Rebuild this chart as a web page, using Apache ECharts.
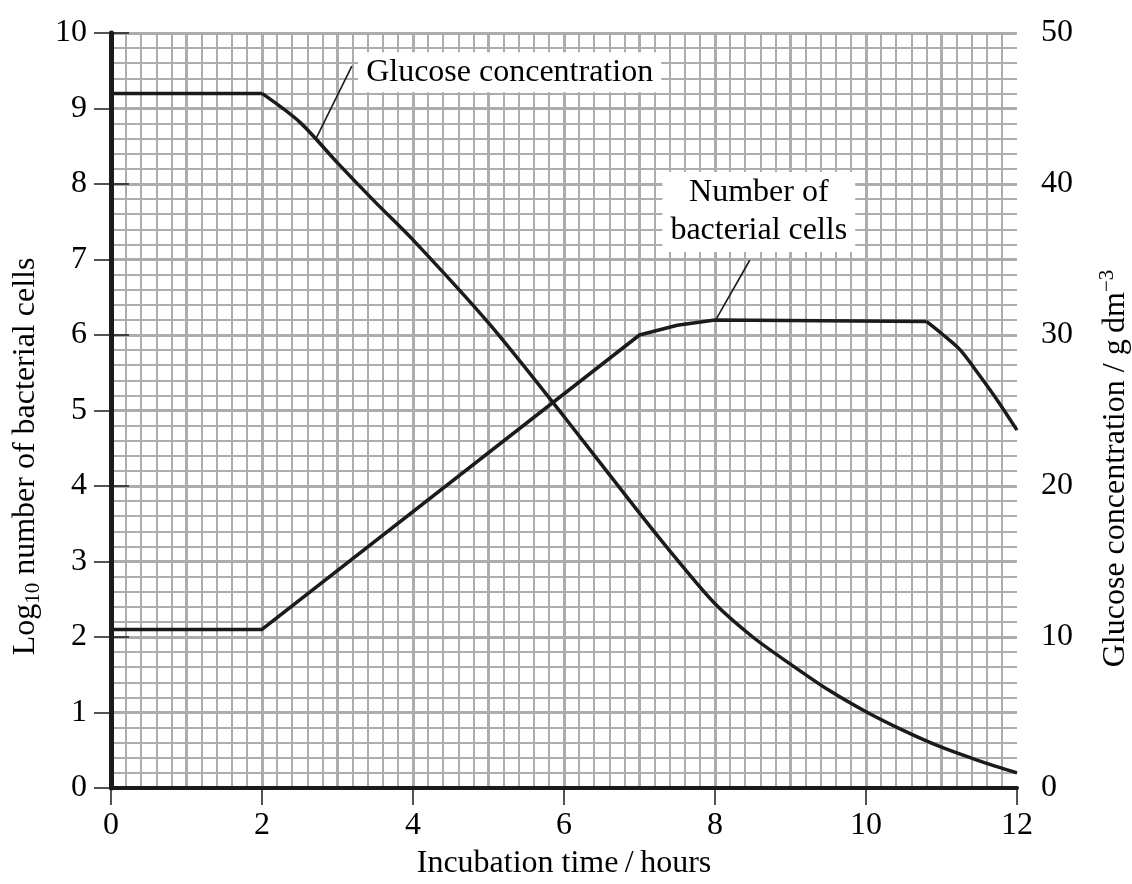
<!DOCTYPE html>
<html>
<head>
<meta charset="utf-8">
<title>Bacterial cells and glucose</title>
<script src="https://cdn.jsdelivr.net/npm/echarts@6/dist/echarts.min.js"></script>
<style>
  html, body { margin: 0; padding: 0; background: #fff; }
  #chart { width: 1132px; height: 884px; }
</style>
</head>
<body>
<div id="chart"></div>
<script>
// values
var glucoseHours  = [0, 2, 2.5, 3, 3.5, 4, 5, 6, 7, 7.5, 8, 8.5, 9, 9.5, 10, 10.5, 11, 11.5, 12];
var glucoseValues = [46, 46, 44.1, 41.4, 38.8, 36.3, 30.8, 24.6, 18.2, 15.1, 12.2, 10.0, 8.2, 6.5, 5.05, 3.8, 2.7, 1.8, 1.0];
var cellHours = [0, 2, 7, 7.5, 8, 10.8, 11, 11.25, 11.5, 11.75, 12];
var cellLog   = [2.1, 2.1, 6.0, 6.13, 6.2, 6.18, 6.02, 5.8, 5.47, 5.12, 4.74];

var hourRange = [0, 12];
var logRange = [0, 10];
var glucoseRange = [0, 50];

function pairs(xs, ys) {
  return xs.map(function (x, i) { return [x, ys[i]]; });
}

var glucosePts = pairs(glucoseHours, glucoseValues);
var cellPts = pairs(cellHours, cellLog);

var font = 'Liberation Serif';
var fs = 32;
var ink = '#1c1a1a';
var paper = '#adadad';

// same black line for every curve piece
function curve(name, data, yIdx, smooth) {
  return {
    name: name, type: 'line',
    xAxisIndex: 0, yAxisIndex: yIdx,
    data: data, smooth: smooth,
    showSymbol: false, silent: true,
    lineStyle: { color: ink, width: 3.5 },
    z: 5
  };
}

var chart = echarts.init(document.getElementById('chart'));

var glucoseFlat = curve('Glucose concentration', glucosePts.slice(0, 2), 1, false);
var glucoseFall = curve('Glucose concentration', glucosePts.slice(1), 1, 0.3);
glucoseFall.markLine = {
  silent: true, symbol: ['none', 'none'],
  label: { show: false },
  lineStyle: { color: ink, width: 1.6, type: 'solid' },
  data: [[{ coord: [2.72, 43.05] }, { coord: [3.19, 47.8] }]]
};
glucoseFall.markPoint = {
  silent: true, symbol: 'circle', symbolSize: 1,
  itemStyle: { color: 'rgba(0,0,0,0)' },
  label: {
    show: true, position: 'inside', color: '#000', fontFamily: font, fontSize: fs,
    backgroundColor: '#fff', padding: [4, 8],
    formatter: 'Glucose concentration'
  },
  data: [{ coord: [5.28, 47.4] }]
};

var cellRise = curve('Number of bacterial cells', cellPts.slice(0, 6), 0, false);
var cellDrop = curve('Number of bacterial cells', cellPts.slice(5), 0, 0.3);
cellRise.markLine = {
  silent: true, symbol: ['none', 'none'],
  label: { show: false },
  lineStyle: { color: ink, width: 1.6, type: 'solid' },
  data: [[{ coord: [8.01, 6.2] }, { coord: [8.46, 6.99] }]]
};
cellRise.markPoint = {
  silent: true, symbol: 'circle', symbolSize: 1,
  itemStyle: { color: 'rgba(0,0,0,0)' },
  label: {
    show: true, position: 'inside', color: '#000', fontFamily: font, fontSize: fs,
    lineHeight: 38, align: 'center',
    backgroundColor: '#fff', padding: [2, 8],
    formatter: 'Number of\nbacterial cells'
  },
  data: [{ coord: [8.58, 7.63] }]
};

var option = {
  backgroundColor: '#fff',
  animation: false,
  grid: { left: 111, right: 115, top: 33, bottom: 96, outerBoundsMode: 'none', containLabel: false },
  xAxis: [
    {
      // graph paper, vertical lines
      type: 'value', min: hourRange[0], max: hourRange[1], interval: 1,
      axisLine: { show: false }, axisTick: { show: false }, axisLabel: { show: false },
      splitLine: { show: true, showMinLine: false, showMaxLine: false, lineStyle: { color: paper, width: 3 } },
      minorTick: { show: false, splitNumber: 5 },
      minorSplitLine: { show: true, lineStyle: { color: paper, width: 2 } }
    },
    {
      // visible axis, ticks every 2 hours
      type: 'value', position: 'bottom', min: hourRange[0], max: hourRange[1], interval: 2,
      z: 3,
      axisLine: { show: true, lineStyle: { color: ink, width: 4 } },
      axisTick: { show: true, inside: false, length: 17, lineStyle: { color: ink, width: 1.5 } },
      axisLabel: { margin: 22, color: '#000', fontFamily: font, fontSize: fs },
      splitLine: { show: false },
      name: 'Incubation time\u2009/\u2009hours',
      nameLocation: 'middle', nameGap: 60,
      nameTextStyle: { color: '#000', fontFamily: font, fontSize: fs }
    }
  ],
  yAxis: [
    {
      type: 'value', position: 'left', min: logRange[0], max: logRange[1], interval: 1,
      z: 3,
      axisLine: { show: true, lineStyle: { color: ink, width: 5 } },
      axisTick: { show: true, inside: false, length: 17, lineStyle: { color: ink, width: 1.5 } },
      axisLabel: { margin: 24, color: '#000', fontFamily: font, fontSize: fs },
      splitLine: { show: true, showMinLine: false, lineStyle: { color: paper, width: 3 } },
      minorTick: { show: false, splitNumber: 5 },
      minorSplitLine: { show: true, lineStyle: { color: paper, width: 2 } },
      name: 'Log{sub|10} number of bacterial cells',
      nameLocation: 'middle', nameGap: 62,
      nameTextStyle: {
        color: '#000', fontFamily: font, fontSize: fs, lineHeight: 38,
        verticalAlign: 'bottom', padding: [0, 92, 0, 0],
        rich: {
          sub: { fontFamily: font, fontSize: 21, lineHeight: 12, verticalAlign: 'bottom', color: '#000' }
        }
      }
    },
    {
      type: 'value', position: 'right', min: glucoseRange[0], max: glucoseRange[1], interval: 10,
      z: 3,
      axisLine: { show: true, lineStyle: { color: ink, width: 4 } },
      axisTick: { show: true, inside: false, length: 18, lineStyle: { color: ink, width: 1.5 } },
      axisLabel: { margin: 24, color: '#000', fontFamily: font, fontSize: fs },
      splitLine: { show: false },
      name: 'Glucose concentration / g\u2009dm{sup|\u22123}',
      nameLocation: 'middle', nameGap: 80,
      nameTextStyle: {
        color: '#000', fontFamily: font, fontSize: fs, lineHeight: 38,
        padding: [0, 116, 0, 0],
        rich: {
          sup: { fontFamily: font, fontSize: 21, lineHeight: 14, verticalAlign: 'top', color: '#000' }
        }
      }
    }
  ],
  series: [glucoseFlat, glucoseFall, cellRise, cellDrop]
};

chart.setOption(option);
</script>
</body>
</html>
